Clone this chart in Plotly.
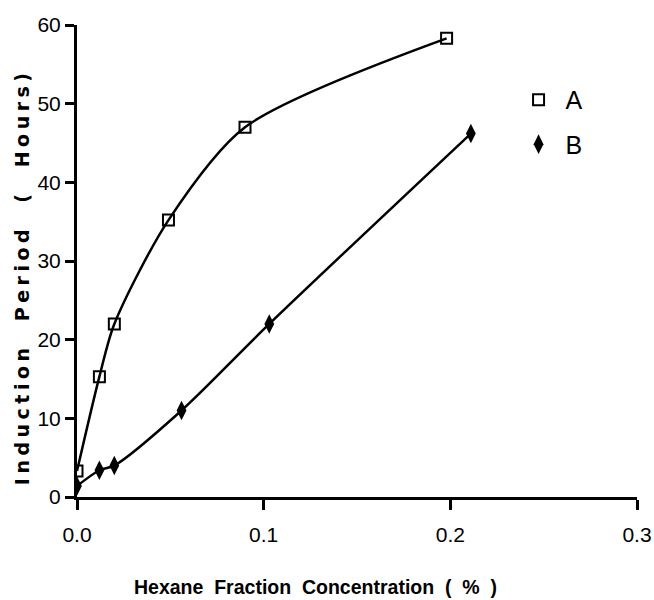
import plotly.graph_objects as go

# Data
x_a = [0.0, 0.012, 0.020, 0.049, 0.090, 0.198]
y_a = [3.3, 15.3, 22.0, 35.2, 47.0, 58.3]
x_b = [0.0, 0.012, 0.020, 0.056, 0.103, 0.211]
y_b = [1.4, 3.4, 4.0, 11.0, 22.0, 46.2]
series_names = ["A", "B"]
x_ticks = [0.0, 0.1, 0.2, 0.3]
x_tick_labels = ["0.0", "0.1", "0.2", "0.3"]
y_ticks = [0, 10, 20, 30, 40, 50, 60]

SANS = "Liberation Sans, Arial, sans-serif"
NB = "\u00a0"

fig = go.Figure()
line_style = dict(color="black", width=2.5, shape="spline", smoothing=0.8)
marker_a = dict(symbol="square-open", size=11, color="black", line=dict(width=2, color="black"))
marker_b = dict(symbol="diamond-tall", size=14, color="black")
fig.add_trace(go.Scatter(x=x_a, y=y_a, mode="lines+markers", line=line_style,
                         marker=marker_a, showlegend=False, name=series_names[0]))
fig.add_trace(go.Scatter(x=x_b, y=y_b, mode="lines+markers", line=line_style,
                         marker=marker_b, showlegend=False, name=series_names[1]))
# legend entries (marker only)
fig.add_trace(go.Scatter(x=[None], y=[None], mode="markers", name=series_names[0],
                         legendgroup="a", marker=marker_a))
fig.add_trace(go.Scatter(x=[None], y=[None], mode="markers", name=series_names[1],
                         legendgroup="b", marker=marker_b))

fig.update_layout(
    width=654, height=600,
    margin=dict(l=77, r=17, t=25, b=103, autoexpand=False),
    paper_bgcolor="white", plot_bgcolor="white",
    font=dict(family=SANS, color="black"),
    legend=dict(x=0.776, y=0.89, xanchor="left", yanchor="top",
                font=dict(family=SANS, size=25, color="black"),
                tracegroupgap=9, bgcolor="rgba(0,0,0,0)", traceorder="grouped",
                itemwidth=44),
    showlegend=True,
)
fig.update_xaxes(range=[0, 0.3], tickvals=x_ticks, ticktext=x_tick_labels,
                 showgrid=False, zeroline=False, showline=True, linecolor="black",
                 linewidth=3, ticks="outside", ticklen=10, tickwidth=2.5,
                 tickcolor="black", tickfont=dict(family=SANS, size=21),
                 ticklabelstandoff=7, ticklabeloverflow="allow", automargin=False)
fig.update_yaxes(range=[0, 60], tickvals=y_ticks,
                 showgrid=False, zeroline=False, showline=True, linecolor="black",
                 linewidth=3, ticks="outside", ticklen=9, tickwidth=2.5,
                 tickcolor="black", tickfont=dict(family=SANS, size=21),
                 ticklabelstandoff=0, ticklabeloverflow="allow", automargin=False)

fig.add_annotation(text=f"Hexane{NB}{NB}Fraction{NB}{NB}Concentration{NB}{NB}({NB}{NB}%{NB}{NB})",
                   xref="paper", yref="paper", x=0.425, y=-0.19,
                   xanchor="center", yanchor="middle", showarrow=False,
                   font=dict(family=SANS, size=19.5, color="black", weight="bold"))
fig.add_annotation(text=(f"<span style='letter-spacing:4.5px'>Induction{NB}{NB}Period"
                         f"{NB}{NB}({NB}{NB}Hours)</span>"),
                   xref="paper", yref="paper", x=-0.098, y=0.466, textangle=-90,
                   xanchor="center", yanchor="middle", showarrow=False,
                   font=dict(family="DejaVu Sans, sans-serif", size=19, color="black",
                             weight="bold"))

fig.write_html("out.html")
